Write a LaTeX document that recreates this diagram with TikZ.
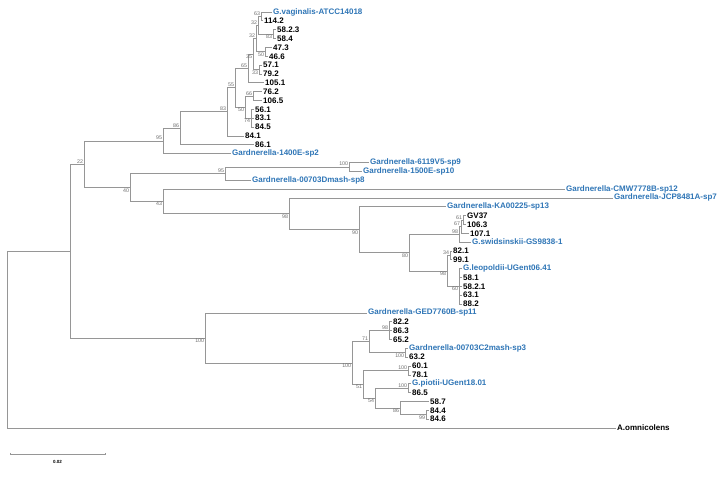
\documentclass[tikz,border=0pt]{standalone}
\usepackage{fontspec}
\setmainfont{Liberation Sans}
\definecolor{taxblue}{RGB}{46,117,182}
\definecolor{brgray}{RGB}{150,150,150}
\definecolor{bsgray}{RGB}{110,110,110}
\tikzset{
  branch/.style={draw=brgray, line width=0.7pt},
  leaf/.style={anchor=west, inner sep=1.5pt, font=\bfseries\fontsize{8}{8}\selectfont},
  taxon/.style={leaf, text=taxblue},
  bs/.style={inner sep=0.7pt, text=bsgray, font=\fontsize{5.3}{5.3}\selectfont},
  bsup/.style={bs, anchor=south east},
  bsdn/.style={bs, anchor=north east}
}
\begin{document}
\begin{tikzpicture}[x=1pt,y=-8.85pt]
\useasboundingbox (0,-1.356) rectangle (725,52.655);
%----------leaves------------------------------
\node[taxon] (l0) at (271.5,0) {G.vaginalis-ATCC14018};
\node[leaf] (l1) at (262.5,1) {114.2};
\node[leaf] (l2) at (275.5,2) {58.2.3};
\node[leaf] (l3) at (275.5,3) {58.4};
\node[leaf] (l4) at (271.5,4) {47.3};
\node[leaf] (l5) at (267.5,5) {46.6};
\node[leaf] (l6) at (261.5,6) {57.1};
\node[leaf] (l7) at (261.5,7) {79.2};
\node[leaf] (l8) at (263.5,8) {105.1};
\node[leaf] (l9) at (261.5,9) {76.2};
\node[leaf] (l10) at (261.5,10) {106.5};
\node[leaf] (l11) at (253.5,11) {56.1};
\node[leaf] (l12) at (253.5,12) {83.1};
\node[leaf] (l13) at (253.5,13) {84.5};
\node[leaf] (l14) at (243.5,14) {84.1};
\node[leaf] (l15) at (253.5,15) {86.1};
\node[taxon] (l16) at (230.5,16) {Gardnerella-1400E-sp2};
\node[taxon] (l17) at (368.5,17) {Gardnerella-6119V5-sp9};
\node[taxon] (l18) at (361.5,18) {Gardnerella-1500E-sp10};
\node[taxon] (l19) at (250.5,19) {Gardnerella-00703Dmash-sp8};
\node[taxon] (l20) at (564.5,20) {Gardnerella-CMW7778B-sp12};
\node[taxon] (l21) at (612.5,21) {Gardnerella-JCP8481A-sp7};
\node[taxon] (l22) at (445.5,22) {Gardnerella-KA00225-sp13};
\node[leaf] (l23) at (465.5,23) {GV37};
\node[leaf] (l24) at (465.5,24) {106.3};
\node[leaf] (l25) at (468.5,25) {107.1};
\node[taxon] (l26) at (470.5,26) {G.swidsinskii-GS9838-1};
\node[leaf] (l27) at (451.5,27) {82.1};
\node[leaf] (l28) at (451.5,28) {99.1};
\node[taxon] (l29) at (461.5,29) {G.leopoldii-UGent06.41};
\node[leaf] (l30) at (461.5,30) {58.1};
\node[leaf] (l31) at (461.5,31) {58.2.1};
\node[leaf] (l32) at (461.5,32) {63.1};
\node[leaf] (l33) at (461.5,33) {88.2};
\node[taxon] (l34) at (366.5,34) {Gardnerella-GED7760B-sp11};
\node[leaf] (l35) at (391.5,35) {82.2};
\node[leaf] (l36) at (391.5,36) {86.3};
\node[leaf] (l37) at (391.5,37) {65.2};
\node[taxon] (l38) at (407.5,38) {Gardnerella-00703C2mash-sp3};
\node[leaf] (l39) at (407.5,39) {63.2};
\node[leaf] (l40) at (410.5,40) {60.1};
\node[leaf] (l41) at (410.5,41) {78.1};
\node[taxon] (l42) at (410.5,42) {G.piotii-UGent18.01};
\node[leaf] (l43) at (410.5,43) {86.5};
\node[leaf] (l44) at (428.5,44) {58.7};
\node[leaf] (l45) at (428.5,45) {84.4};
\node[leaf] (l46) at (428.5,46) {84.6};
\node[leaf] (l47) at (615.5,47) {A.omnicolens};
%----------inner nodes-------------------------
\coordinate (n63) at (261,0.5);
\coordinate (n83a) at (273,2.5);
\coordinate (n32a) at (258,1.5);
\coordinate (n50a) at (265,4.5);
\coordinate (n32b) at (256,3);
\coordinate (n33) at (259,6.5);
\coordinate (n35) at (253,4.75);
\coordinate (n65) at (248,6.375);
\coordinate (n66) at (253,9.5);
\coordinate (n74) at (251,12);
\coordinate (n50b) at (245,10.75);
\coordinate (n55) at (235,8.5625);
\coordinate (n83b) at (227,11.281);
\coordinate (n86) at (180,13.141);
\coordinate (n95) at (163,14.570);
\coordinate (n100a) at (349,17.5);
\coordinate (n95b) at (225,18.25);
\coordinate (n61) at (463,23.5);
\coordinate (n67) at (461,24.25);
\coordinate (n98b) at (459,25.125);
\coordinate (n34) at (450,27.5);
\coordinate (n60) at (459,31);
\coordinate (n98c) at (447,29.25);
\coordinate (n80) at (409,27.188);
\coordinate (n90) at (359,24.594);
\coordinate (n98a) at (289,22.797);
\coordinate (n43) at (163,21.398);
\coordinate (n40) at (130,19.824);
\coordinate (n22) at (84,17.197);
\coordinate (n98d) at (389,36);
\coordinate (n100c) at (405,38.5);
\coordinate (n71) at (369,37.25);
\coordinate (n100d) at (408,40.5);
\coordinate (n100e) at (408,42.5);
\coordinate (n99) at (426,45.5);
\coordinate (n86b) at (400,44.75);
\coordinate (n54) at (375,43.625);
\coordinate (n51) at (363,42.063);
\coordinate (n100f) at (352,39.656);
\coordinate (n100big) at (205,36.828);
\coordinate (nin) at (70,27.013);
\coordinate (nroot) at (7,37.006);
%----------branches to leaves------------------
\foreach \p/\c in {n63/l0,n63/l1,n83a/l2,n83a/l3,n50a/l4,n50a/l5,n33/l6,n33/l7,
    n65/l8,n66/l9,n66/l10,n74/l11,n74/l12,n74/l13,n83b/l14,n86/l15,n95/l16,
    n100a/l17,n100a/l18,n95b/l19,n43/l20,n98a/l21,n90/l22,n61/l23,n61/l24,
    n67/l25,n98b/l26,n34/l27,n34/l28,n60/l29,n60/l30,n60/l31,n60/l32,n60/l33,
    n100big/l34,n98d/l35,n98d/l36,n98d/l37,n100c/l38,n100c/l39,n100d/l40,
    n100d/l41,n100e/l42,n100e/l43,n86b/l44,n99/l45,n99/l46,nroot/l47}
  \draw[branch] (\p) |- (\c.west);
%----------inner branches----------------------
\foreach \p/\c in {n32a/n63,n32a/n83a,n32b/n32a,n32b/n50a,n35/n32b,n35/n33,
    n65/n35,n50b/n66,n50b/n74,n55/n65,n55/n50b,n83b/n55,n86/n83b,n95/n86,
    n22/n95,n95b/n100a,n40/n95b,n40/n43,n43/n98a,n98a/n90,n90/n80,n80/n98b,
    n80/n98c,n98b/n67,n67/n61,n98c/n34,n98c/n60,n22/n40,nin/n22,nin/n100big,
    n100big/n100f,n100f/n71,n100f/n51,n71/n98d,n71/n100c,n51/n100d,n51/n54,
    n54/n100e,n54/n86b,n86b/n99,nroot/nin}
  \draw[branch] (\p) |- (\c);
%----------bootstrap values--------------------
\node[bsup] (b63) at (n63) {63};
\node[bsup] (b32a) at (n32a) {32};
\node[bsdn] (b83a) at (n83a) {83};
\node[bsdn] (b50a) at (n50a) {50};
\node[bsup] (b32b) at (n32b) {32};
\node[bsdn] (b35) at (n35) {35};
\node[bsdn] (b33) at (n33) {33};
\node[bsup] (b65) at (n65) {65};
\node[bsup] (b55) at (n55) {55};
\node[bsup] (b66) at (n66) {66};
\node[bsdn] (b50b) at (n50b) {50};
\node[bsdn] (b74) at (n74) {74};
\node[bsup] (b83b) at (n83b) {83};
\node[bsup] (b86) at (n86) {86};
\node[bsup] (b95) at (n95) {95};
\node[bsup] (b22) at (n22) {22};
\node[bsup] (b100a) at (n100a) {100};
\node[bsup] (b95b) at (n95b) {95};
\node[bsdn] (b40) at (n40) {40};
\node[bsdn] (b43) at (n43) {43};
\node[bsdn] (b98a) at (n98a) {98};
\node[bsdn] (b90) at (n90) {90};
\node[bsdn] (b80) at (n80) {80};
\node[bsup] (b98b) at (n98b) {98};
\node[bsup] (b67) at (n67) {67};
\node[bsup] (b61) at (n61) {61};
\node[bsup] (b34) at (n34) {34};
\node[bsdn] (b98c) at (n98c) {98};
\node[bsdn] (b60) at (n60) {60};
\node[bsdn] (b100big) at (n100big) {100};
\node[bsup] (b98d) at (n98d) {98};
\node[bsup] (b71) at (n71) {71};
\node[bsdn] (b100c) at (n100c) {100};
\node[bsdn] (b100f) at (n100f) {100};
\node[bsup] (b100d) at (n100d) {100};
\node[bsdn] (b51) at (n51) {51};
\node[bsup] (b100e) at (n100e) {100};
\node[bsdn] (b54) at (n54) {54};
\node[bsdn] (b86b) at (n86b) {86};
\node[bsdn] (b99) at (n99) {99};
%----------scale bar---------------------------
\coordinate (sb1) at (10,49.94);
\coordinate (sb2) at (105,49.94);
\draw[branch, line width=0.6pt] ([yshift=1.2pt]sb1) -- (sb1) -- (sb2) -- ([yshift=1.2pt]sb2);
\node[font=\bfseries\fontsize{4.5}{5}\selectfont, inner sep=0pt] (sblab) at (57.5,50.85) {0.02};
\end{tikzpicture}
\end{document}
